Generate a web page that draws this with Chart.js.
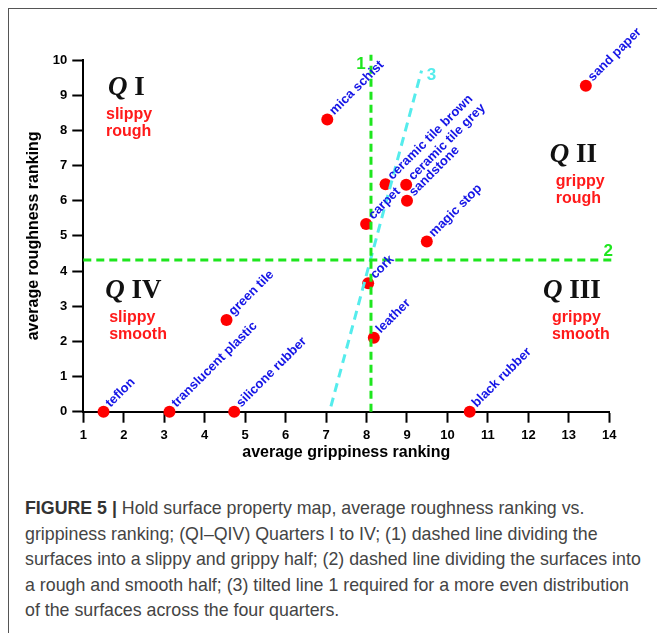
<!DOCTYPE html>
<html>
<head>
<meta charset="utf-8">
<script src="https://cdn.jsdelivr.net/npm/chart.js@4/dist/chart.umd.min.js"></script>
<style>
    body { margin: 0; background: #fff; }
    #wrap { position: relative; width: 657px; height: 633px; overflow: hidden; }
    #frame { position: absolute; left: 8px; top: 8px; width: 700px; height: 700px;
             border-left: 1px solid #555; border-top: 1px solid #555; }
    canvas { position: absolute; left: 0; top: 0; }
    #caption { position: absolute; left: 25px; top: 496px; font-family: Arial, "Liberation Sans", sans-serif;
               font-size: 17.8px; line-height: 25.5px; color: #444; white-space: nowrap; }
    #caption b { color: #333; }
</style>
</head>
<body>
<div id="wrap">
    <div id="frame"></div>
    <canvas id="map_chart" width="657" height="470"></canvas>
    <div id="caption">
        <b>FIGURE 5 |</b> Hold surface property map, average roughness ranking vs.<br>
        grippiness ranking; (QI–QIV) Quarters I to IV; (1) dashed line dividing the<br>
        surfaces into a slippy and grippy half; (2) dashed line dividing the surfaces into<br>
        a rough and smooth half; (3) tilted line 1 required for a more even distribution<br>
        of the surfaces across the four quarters.
    </div>
</div>
<script>
// surfaces and their average rankings
const surfaces = ['teflon', 'translucent plastic', 'silicone rubber', 'green tile', 'cork', 'leather',
    'black rubber', 'mica schist', 'sand paper', 'ceramic tile brown', 'ceramic tile grey',
    'sandstone', 'carpet', 'magic stop'];
const grippiness = [1.5, 3.13, 4.73, 4.54, 8.04, 8.18, 10.55, 7.03, 13.42, 8.47, 8.98, 9.0, 7.99, 9.49];
const roughness = [0, 0, 0, 2.61, 3.65, 2.10, 0, 8.31, 9.27, 6.47, 6.45, 6.0, 5.34, 4.84];

// dividing lines 1, 2 and the tilted line 3
const line1X = [8.11, 8.11];
const line1Y = [0, 10.15];
const line2X = [1, 14.1];
const line2Y = [4.31, 4.31];
const line3X = [7.12, 9.36];
const line3Y = [0.15, 9.7];

const xTicks = [1, 2, 3, 4, 5, 6, 7, 8, 9, 10, 11, 12, 13, 14];
const yTicks = [0, 1, 2, 3, 4, 5, 6, 7, 8, 9, 10];

// quarter labels
const quarters = [
    { q: 'I', lines: ['slippy', 'rough'], x: 1.61, y: 9.0, dx: -2 },
    { q: 'II', lines: ['grippy', 'rough'], x: 12.53, y: 7.11, dx: 6 },
    { q: 'IV', lines: ['slippy', 'smooth'], x: 1.54, y: 3.23, dx: 4 },
    { q: 'III', lines: ['grippy', 'smooth'], x: 12.36, y: 3.22, dx: 9 }
];

const GREEN = '#1ee61e';
const CYAN = '#55ecec';

function toPoints(xs, ys) {
    return xs.map((x, i) => ({ x: x, y: ys[i] }));
}

const labelsPlugin = {
    id: 'labels',
    afterDatasetsDraw(chart) {
        const ctx = chart.ctx;
        const xs = chart.scales.x;
        const ys = chart.scales.y;
        ctx.save();
        // surface names, rotated
        ctx.fillStyle = '#1515e6';
        ctx.font = 'bold 13px Arial';
        ctx.textBaseline = 'alphabetic';
        ctx.textAlign = 'left';
        surfaces.forEach((name, i) => {
            const px = xs.getPixelForValue(grippiness[i]);
            const py = ys.getPixelForValue(roughness[i]);
            ctx.save();
            ctx.translate(px + 7, py - 4);
            ctx.rotate(-Math.PI / 4);
            ctx.fillText(name, 0, 0);
            ctx.restore();
        });
        // line numbers
        ctx.font = 'bold 17px Arial';
        ctx.textAlign = 'center';
        ctx.fillStyle = GREEN;
        ctx.fillText('1', xs.getPixelForValue(line1X[1]) - 10, ys.getPixelForValue(line1Y[1]) + 14);
        ctx.fillText('2', xs.getPixelForValue(line2X[1]) - 5, ys.getPixelForValue(line2Y[1]) - 4);
        ctx.fillStyle = CYAN;
        ctx.fillText('3', xs.getPixelForValue(line3X[1]) + 10, ys.getPixelForValue(line3Y[1]) + 9);
        // quarters
        ctx.textAlign = 'left';
        quarters.forEach(q => {
            const px = xs.getPixelForValue(q.x);
            const py = ys.getPixelForValue(q.y);
            ctx.fillStyle = '#111';
            ctx.font = 'italic bold 27px "Liberation Serif", "Times New Roman", serif';
            ctx.fillText('Q', px, py);
            const qw = ctx.measureText('Q ').width;
            ctx.font = 'bold 27px "Liberation Serif", "Times New Roman", serif';
            ctx.fillText(q.q, px + qw, py);
            ctx.fillStyle = '#ff1a1a';
            ctx.font = 'bold 16px Arial';
            q.lines.forEach((t, k) => ctx.fillText(t, px + q.dx, py + 24 + k * 17));
        });
        ctx.restore();
    }
};

document.addEventListener('DOMContentLoaded', () => {
    const ctx = document.getElementById('map_chart').getContext('2d');
    const map_chart = new Chart(ctx, {
        type: 'scatter',
        data: {
            datasets: [{
                label: 'line 1',
                data: toPoints(line1X, line1Y),
                showLine: true,
                borderColor: GREEN,
                borderWidth: 3,
                borderDash: [8, 5],
                pointRadius: 0,
                clip: false
            }, {
                label: 'line 2',
                data: toPoints(line2X, line2Y),
                showLine: true,
                borderColor: GREEN,
                borderWidth: 3,
                borderDash: [8, 5],
                pointRadius: 0,
                clip: false
            }, {
                label: 'line 3',
                data: toPoints(line3X, line3Y),
                showLine: true,
                borderColor: CYAN,
                borderWidth: 3,
                borderDash: [9, 6],
                pointRadius: 0,
                clip: false
            }, {
                label: 'surfaces',
                data: toPoints(grippiness, roughness),
                backgroundColor: '#ff0000',
                borderWidth: 0,
                pointRadius: 6,
                clip: false
            }]
        },
        options: {
            responsive: false,
            animation: false,
            devicePixelRatio: 1,
            layout: { padding: { left: 20, top: 60, right: 47.7, bottom: 4 } },
            plugins: { legend: { display: false }, tooltip: { enabled: false } },
            scales: {
                x: {
                    type: 'linear',
                    min: 1,
                    max: 14,
                    afterBuildTicks: (s) => { s.ticks = xTicks.map(v => ({ value: v })); },
                    afterFit: (s) => { s.height = 54.3; },
                    grid: { drawOnChartArea: false, drawTicks: true, tickLength: 11, tickColor: '#000', tickWidth: 2 },
                    border: { display: true, color: '#000', width: 2 },
                    ticks: { color: '#000', padding: 5, font: { family: 'Arial', size: 13, weight: 'bold' } },
                    title: {
                        display: true,
                        text: 'average grippiness ranking',
                        color: '#000',
                        font: { family: 'Arial', size: 16, weight: 'bold' }
                    }
                },
                y: {
                    type: 'linear',
                    min: 0,
                    max: 10,
                    afterBuildTicks: (s) => { s.ticks = yTicks.map(v => ({ value: v })); },
                    afterFit: (s) => { s.width = 63.3; },
                    grid: { drawOnChartArea: false, drawTicks: true, tickLength: 11, tickColor: '#000', tickWidth: 2 },
                    border: { display: true, color: '#000', width: 2 },
                    ticks: { color: '#000', padding: 5, font: { family: 'Arial', size: 13, weight: 'bold' } },
                    title: {
                        display: true,
                        text: 'average roughness ranking',
                        color: '#000',
                        font: { family: 'Arial', size: 16, weight: 'bold' }
                    }
                }
            }
        },
        plugins: [labelsPlugin]
    });
});
</script>
</body>
</html>
